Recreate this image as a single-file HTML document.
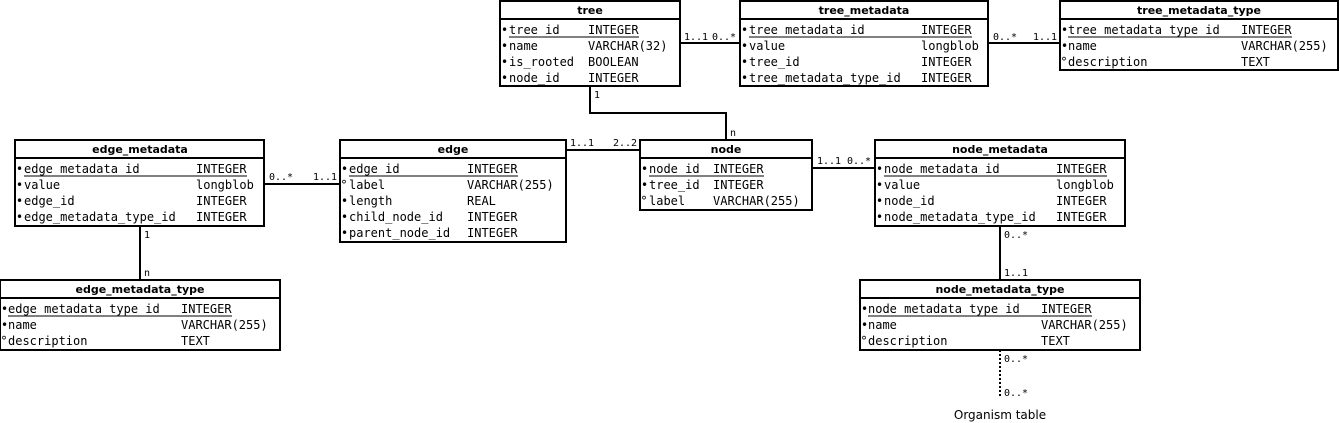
<!DOCTYPE html>
<html><head><meta charset="utf-8"><style>
html,body{margin:0;padding:0;background:#fff;}
svg{display:block}
.t{font-family:"DejaVu Sans Mono","Liberation Mono",monospace;font-size:12px;fill:#000}
.h{font-family:"DejaVu Sans","Liberation Sans",sans-serif;font-size:11px;font-weight:bold;fill:#000}
.b{font-family:"DejaVu Sans","Liberation Sans",sans-serif;font-size:12px;fill:#000}
.l{font-family:"DejaVu Sans Mono","Liberation Mono",monospace;font-size:10px;fill:#000}
.o{font-family:"DejaVu Sans","Liberation Sans",sans-serif;font-size:12px;fill:#000}
rect{fill:#fff;stroke:#000;stroke-width:2}
line,polyline{stroke:#000;stroke-width:2;fill:none}
.u{stroke-width:1}
</style></head><body>
<svg width="1340" height="423" xmlns="http://www.w3.org/2000/svg">
<line x1="680" y1="43" x2="740" y2="43"/>
<line x1="988" y1="43" x2="1060" y2="43"/>
<polyline points="590,86 590,113 726,113 726,140"/>
<line x1="566" y1="150" x2="640" y2="150"/>
<line x1="264" y1="184" x2="340" y2="184"/>
<line x1="140" y1="226" x2="140" y2="280"/>
<line x1="812" y1="168" x2="875" y2="168"/>
<line x1="1000" y1="226" x2="1000" y2="280"/>
<line x1="1000" y1="350" x2="1000" y2="398" stroke-dasharray="2,2"/>
<text class="l" x="684" y="40">1..1</text><text class="l" x="712" y="40">0..*</text>
<text class="l" x="993" y="40">0..*</text><text class="l" x="1033" y="40">1..1</text>
<text class="l" x="594" y="98">1</text><text class="l" x="730" y="136">n</text>
<text class="l" x="570" y="146">1..1</text><text class="l" x="613" y="146">2..2</text>
<text class="l" x="269" y="180">0..*</text><text class="l" x="313" y="180">1..1</text>
<text class="l" x="144" y="238">1</text><text class="l" x="144" y="276">n</text>
<text class="l" x="817" y="164">1..1</text><text class="l" x="847" y="164">0..*</text>
<text class="l" x="1004" y="238">0..*</text><text class="l" x="1004" y="276">1..1</text>
<text class="l" x="1004" y="362">0..*</text><text class="l" x="1004" y="396">0..*</text>
<text class="o" x="1000" y="419" text-anchor="middle">Organism table</text>

<rect x="500" y="1" width="180" height="85"/><line x1="500" y1="19" x2="680" y2="19"/>
<text class="h" x="590" y="14" text-anchor="middle">tree</text>
<text class="b" x="501" y="34">•</text><text class="t" x="509" y="34">tree_id</text><text class="t" x="588" y="34">INTEGER</text>
<line class="u" x1="509" y1="37" x2="639" y2="37"/>
<text class="b" x="501" y="50">•</text><text class="t" x="509" y="50">name</text><text class="t" x="588" y="50">VARCHAR(32)</text>
<text class="b" x="501" y="66">•</text><text class="t" x="509" y="66">is_rooted</text><text class="t" x="588" y="66">BOOLEAN</text>
<text class="b" x="501" y="82">•</text><text class="t" x="509" y="82">node_id</text><text class="t" x="588" y="82">INTEGER</text>

<rect x="740" y="1" width="248" height="85"/><line x1="740" y1="19" x2="988" y2="19"/>
<text class="h" x="864" y="14" text-anchor="middle">tree_metadata</text>
<text class="b" x="741" y="34">•</text><text class="t" x="749" y="34">tree_metadata_id</text><text class="t" x="921" y="34">INTEGER</text>
<line class="u" x1="749" y1="37" x2="972" y2="37"/>
<text class="b" x="741" y="50">•</text><text class="t" x="749" y="50">value</text><text class="t" x="921" y="50">longblob</text>
<text class="b" x="741" y="66">•</text><text class="t" x="749" y="66">tree_id</text><text class="t" x="921" y="66">INTEGER</text>
<text class="b" x="741" y="82">•</text><text class="t" x="749" y="82">tree_metadata_type_id</text><text class="t" x="921" y="82">INTEGER</text>

<rect x="1060" y="1" width="278" height="69"/><line x1="1060" y1="19" x2="1338" y2="19"/>
<text class="h" x="1199" y="14" text-anchor="middle">tree_metadata_type</text>
<text class="b" x="1061" y="34">•</text><text class="t" x="1068" y="34">tree_metadata_type_id</text><text class="t" x="1241" y="34">INTEGER</text>
<line class="u" x1="1068" y1="37" x2="1292" y2="37"/>
<text class="b" x="1061" y="50">•</text><text class="t" x="1068" y="50">name</text><text class="t" x="1241" y="50">VARCHAR(255)</text>
<text class="b" x="1061" y="66">°</text><text class="t" x="1068" y="66">description</text><text class="t" x="1241" y="66">TEXT</text>

<rect x="15" y="140" width="249" height="86"/><line x1="15" y1="158" x2="264" y2="158"/>
<text class="h" x="140" y="153" text-anchor="middle">edge_metadata</text>
<text class="b" x="16" y="173">•</text><text class="t" x="24" y="173">edge_metadata_id</text><text class="t" x="196" y="173">INTEGER</text>
<line class="u" x1="24" y1="176" x2="247" y2="176"/>
<text class="b" x="16" y="189">•</text><text class="t" x="24" y="189">value</text><text class="t" x="196" y="189">longblob</text>
<text class="b" x="16" y="205">•</text><text class="t" x="24" y="205">edge_id</text><text class="t" x="196" y="205">INTEGER</text>
<text class="b" x="16" y="221">•</text><text class="t" x="24" y="221">edge_metadata_type_id</text><text class="t" x="196" y="221">INTEGER</text>

<rect x="340" y="140" width="226" height="102"/><line x1="340" y1="158" x2="566" y2="158"/>
<text class="h" x="453" y="153" text-anchor="middle">edge</text>
<text class="b" x="341" y="173">•</text><text class="t" x="349" y="173">edge_id</text><text class="t" x="467" y="173">INTEGER</text>
<line class="u" x1="349" y1="176" x2="518" y2="176"/>
<text class="b" x="341" y="189">°</text><text class="t" x="349" y="189">label</text><text class="t" x="467" y="189">VARCHAR(255)</text>
<text class="b" x="341" y="205">•</text><text class="t" x="349" y="205">length</text><text class="t" x="467" y="205">REAL</text>
<text class="b" x="341" y="221">•</text><text class="t" x="349" y="221">child_node_id</text><text class="t" x="467" y="221">INTEGER</text>
<text class="b" x="341" y="237">•</text><text class="t" x="349" y="237">parent_node_id</text><text class="t" x="467" y="237">INTEGER</text>

<rect x="640" y="140" width="172" height="70"/><line x1="640" y1="158" x2="812" y2="158"/>
<text class="h" x="726" y="153" text-anchor="middle">node</text>
<text class="b" x="641" y="173">•</text><text class="t" x="649" y="173">node_id</text><text class="t" x="713" y="173">INTEGER</text>
<line class="u" x1="649" y1="176" x2="764" y2="176"/>
<text class="b" x="641" y="189">•</text><text class="t" x="649" y="189">tree_id</text><text class="t" x="713" y="189">INTEGER</text>
<text class="b" x="641" y="205">°</text><text class="t" x="649" y="205">label</text><text class="t" x="713" y="205">VARCHAR(255)</text>

<rect x="875" y="140" width="250" height="86"/><line x1="875" y1="158" x2="1125" y2="158"/>
<text class="h" x="1000" y="153" text-anchor="middle">node_metadata</text>
<text class="b" x="876" y="173">•</text><text class="t" x="884" y="173">node_metadata_id</text><text class="t" x="1056" y="173">INTEGER</text>
<line class="u" x1="884" y1="176" x2="1107" y2="176"/>
<text class="b" x="876" y="189">•</text><text class="t" x="884" y="189">value</text><text class="t" x="1056" y="189">longblob</text>
<text class="b" x="876" y="205">•</text><text class="t" x="884" y="205">node_id</text><text class="t" x="1056" y="205">INTEGER</text>
<text class="b" x="876" y="221">•</text><text class="t" x="884" y="221">node_metadata_type_id</text><text class="t" x="1056" y="221">INTEGER</text>

<rect x="0" y="280" width="280" height="70"/><line x1="0" y1="298" x2="280" y2="298"/>
<text class="h" x="140" y="293" text-anchor="middle">edge_metadata_type</text>
<text class="b" x="1" y="313">•</text><text class="t" x="8" y="313">edge_metadata_type_id</text><text class="t" x="181" y="313">INTEGER</text>
<line class="u" x1="8" y1="316" x2="232" y2="316"/>
<text class="b" x="1" y="329">•</text><text class="t" x="8" y="329">name</text><text class="t" x="181" y="329">VARCHAR(255)</text>
<text class="b" x="1" y="345">°</text><text class="t" x="8" y="345">description</text><text class="t" x="181" y="345">TEXT</text>

<rect x="860" y="280" width="280" height="70"/><line x1="860" y1="298" x2="1140" y2="298"/>
<text class="h" x="1000" y="293" text-anchor="middle">node_metadata_type</text>
<text class="b" x="861" y="313">•</text><text class="t" x="868" y="313">node_metadata_type_id</text><text class="t" x="1041" y="313">INTEGER</text>
<line class="u" x1="868" y1="316" x2="1092" y2="316"/>
<text class="b" x="861" y="329">•</text><text class="t" x="868" y="329">name</text><text class="t" x="1041" y="329">VARCHAR(255)</text>
<text class="b" x="861" y="345">°</text><text class="t" x="868" y="345">description</text><text class="t" x="1041" y="345">TEXT</text>
</svg>
</body></html>
